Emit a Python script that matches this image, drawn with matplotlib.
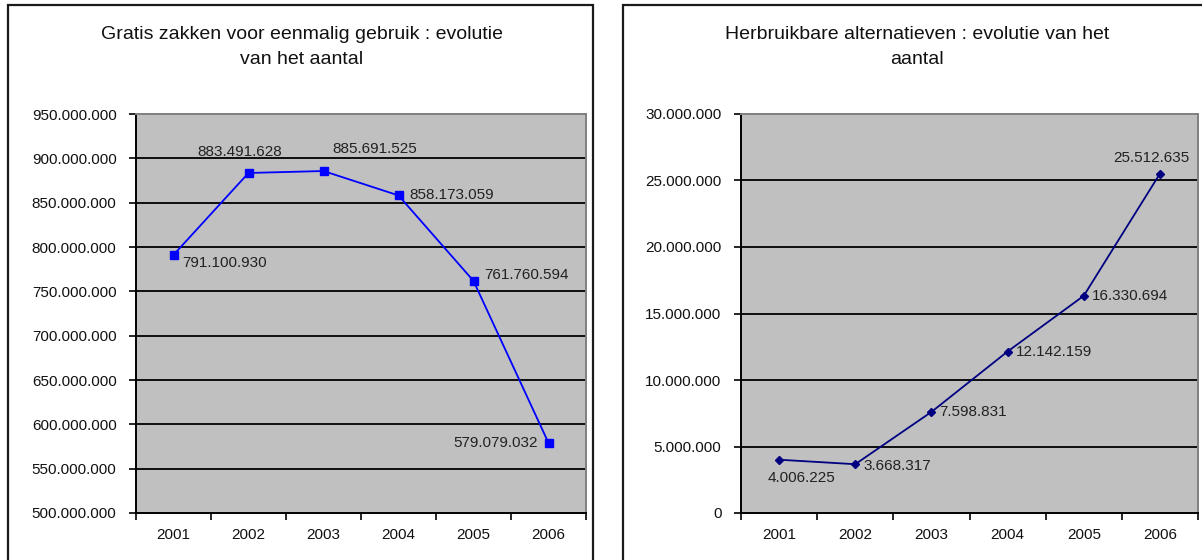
import matplotlib
matplotlib.use("Agg")
import matplotlib.pyplot as plt
from matplotlib.patches import Rectangle

plt.rcParams['font.family'] = ['Liberation Sans', 'DejaVu Sans']

years = ['2001', '2002', '2003', '2004', '2005', '2006']
single_use = [791100930, 883491628, 885691525, 858173059, 761760594, 579079032]
reusable = [4006225, 3668317, 7598831, 12142159, 16330694, 25512635]

left_title = "Gratis zakken voor eenmalig gebruik : evolutie\nvan het aantal"
right_title = "Herbruikbare alternatieven : evolutie van het\naantal"

W, H = 1202, 560
fig = plt.figure(figsize=(W / 100, H / 100), dpi=100)

FS = 11
TFS = 14


def fx(px):
    return px / W


def fy(py):
    return 1 - py / H


def fmt(v):
    return f"{int(v):,}".replace(",", ".")


# panel frames
for x0, x1 in [(8, 593), (623, 1215)]:
    fig.add_artist(Rectangle((fx(x0), fy(600)), fx(x1 - x0), (600 - 5) / H,
                             transform=fig.transFigure, fill=False,
                             edgecolor='#1a1a1a', linewidth=1.6, clip_on=False))


def style_axes(ax, ymin, ymax, step):
    ax.set_facecolor('#c0c0c0')
    ax.set_xlim(0, 6)
    ax.set_ylim(ymin, ymax)
    yt = list(range(ymin, ymax + 1, step))
    ax.set_yticks(yt)
    ax.set_yticklabels([fmt(v) for v in yt], fontsize=FS, color='#111111')
    ax.set_xticks(range(0, 7))
    ax.set_xticklabels([])
    ax.set_xticks([i + 0.5 for i in range(6)], minor=True)
    ax.set_xticklabels(years, minor=True, fontsize=FS, color='#111111')
    ax.tick_params(axis='x', which='minor', length=0, pad=11)
    ax.tick_params(axis='x', which='major', length=5, width=1.2, direction='out')
    ax.tick_params(axis='y', length=5, width=1.2, direction='out', pad=9)
    for v in yt[1:-1]:
        ax.axhline(v, color='black', linewidth=1.3, zorder=1)
    ax.spines['left'].set_color('black')
    ax.spines['left'].set_linewidth(1.4)
    ax.spines['bottom'].set_color('black')
    ax.spines['bottom'].set_linewidth(1.4)
    ax.spines['top'].set_color('#808080')
    ax.spines['top'].set_linewidth(1.4)
    ax.spines['right'].set_color('#808080')
    ax.spines['right'].set_linewidth(1.4)


xs = [i + 0.5 for i in range(6)]

# Left chart
ax1 = fig.add_axes([fx(136), fy(513), fx(586 - 136), (513 - 114) / H])
style_axes(ax1, 500000000, 950000000, 50000000)
ax1.plot(xs, single_use, color='#0000ff', linewidth=1.3, marker='s',
         markersize=5.5, zorder=3)
offs1 = [(6, -6, 'left', 'center'), (-6, 15, 'center', 'center'),
         (37, 16, 'center', 'center'), (8, 0, 'left', 'center'),
         (8, 4, 'left', 'center'), (-8, 0, 'right', 'center')]
for x, v, (dx, dy, ha, va) in zip(xs, single_use, offs1):
    ax1.annotate(fmt(v), (x, v), xytext=(dx, dy), textcoords='offset points',
                 ha=ha, va=va, fontsize=FS, color='#222222', zorder=4)
fig.text(fx(302), fy(47), left_title, ha='center', va='center',
         fontsize=TFS, linespacing=1.55, color='#111111')

# Right chart
ax2 = fig.add_axes([fx(741), fy(513), fx(1198 - 741), (513 - 114) / H])
style_axes(ax2, 0, 30000000, 5000000)
ax2.plot(xs, reusable, color='#000080', linewidth=1.3, marker='D',
         markersize=4.5, zorder=3)
offs2 = [(16, -13, 'center', 'center'), (6, -1, 'left', 'center'),
         (6, 0, 'left', 'center'), (6, 0, 'left', 'center'),
         (6, 0, 'left', 'center'), (-6, 11, 'center', 'center')]
for x, v, (dx, dy, ha, va) in zip(xs, reusable, offs2):
    ax2.annotate(fmt(v), (x, v), xytext=(dx, dy), textcoords='offset points',
                 ha=ha, va=va, fontsize=FS, color='#222222', zorder=4)
fig.text(fx(917), fy(47), right_title, ha='center', va='center',
         fontsize=TFS, linespacing=1.55, color='#111111')

fig.savefig('out.png', dpi=100, facecolor='white')
